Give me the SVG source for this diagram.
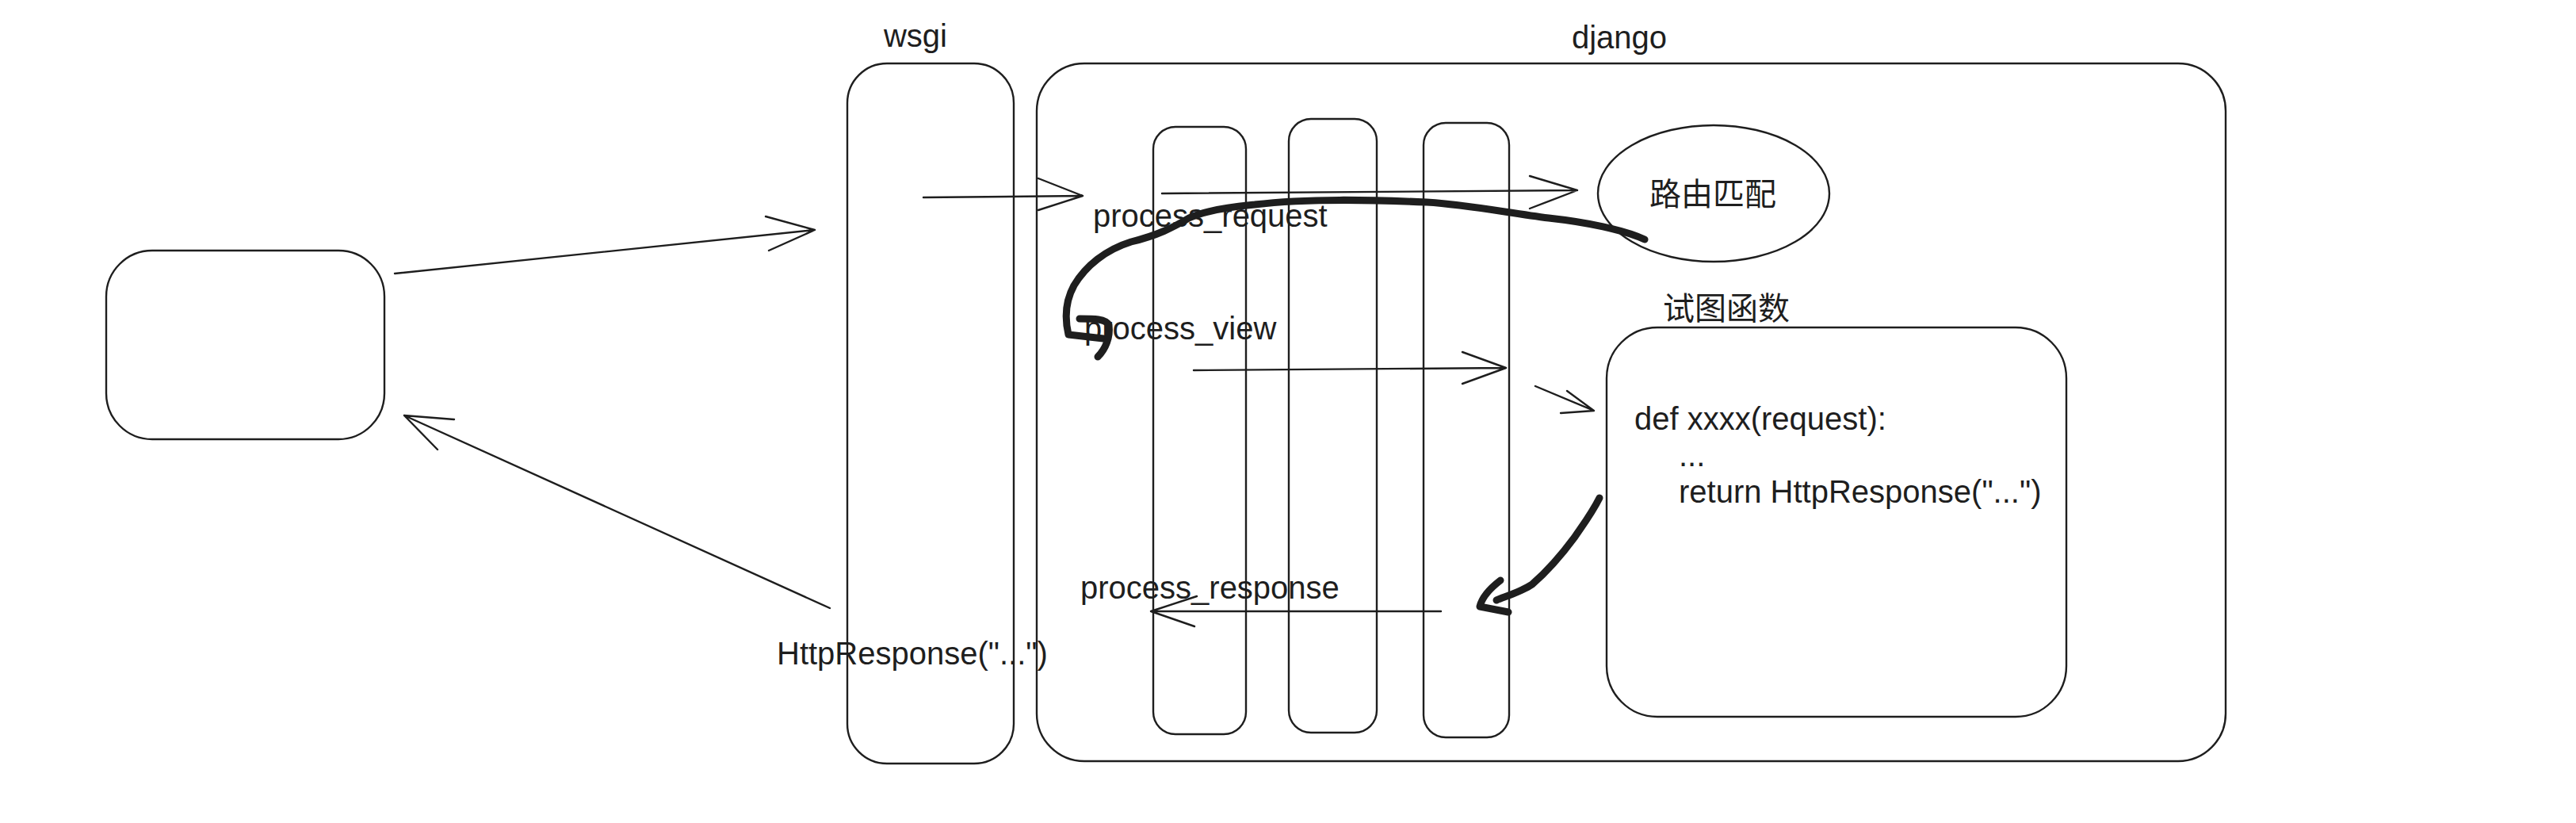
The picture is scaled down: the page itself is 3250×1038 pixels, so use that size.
<svg xmlns="http://www.w3.org/2000/svg" width="3250" height="1038" viewBox="0 0 3250 1038">
<defs>
<style>
.box{fill:none;stroke:#1e1e1e;stroke-width:2.4}
.ln{fill:none;stroke:#1e1e1e;stroke-width:2.4;stroke-linecap:round;stroke-linejoin:round}
.thick{fill:none;stroke:#1e1e1e;stroke-width:9;stroke-linecap:round;stroke-linejoin:round}
.t{font-family:"Liberation Sans",Arial,sans-serif;font-size:40px;fill:#1e1e1e}
.cjk{font-family:"Liberation Sans","Noto Sans CJK SC",sans-serif;font-size:40px;fill:#1e1e1e}
</style>
</defs>
<rect width="3250" height="1038" fill="#ffffff"/>
<g id="client">
<rect class="box" x="134" y="316" width="351" height="238" rx="58" ry="58"/>
</g>
<g id="wsgi">
<rect class="box" x="1069" y="80" width="210" height="883" rx="50" ry="50"/>
<text class="t" x="1155" y="59" text-anchor="middle">wsgi</text>
</g>
<g id="django">
<rect class="box" x="1308" y="80" width="1500" height="880" rx="60" ry="60"/>
<text class="t" x="2043" y="61" text-anchor="middle">django</text>
</g>
<g id="middleware1">
<rect class="box" x="1455" y="160" width="117" height="766" rx="28" ry="28"/>
</g>
<g id="middleware2">
<rect class="box" x="1626" y="150" width="111" height="774" rx="28" ry="28"/>
</g>
<g id="middleware3">
<rect class="box" x="1796" y="155" width="108" height="775" rx="28" ry="28"/>
</g>
<g id="route">
<ellipse class="box" cx="2162" cy="244" rx="146" ry="86"/>
<text class="cjk" x="2161" y="259" text-anchor="middle">路由匹配</text>
</g>
<g id="view">
<rect class="box" x="2027" y="413" width="580" height="491" rx="64" ry="64"/>
<text class="cjk" x="2178" y="403" text-anchor="middle">试图函数</text>
<text class="t" x="2062" y="542">def xxxx(request):</text>
<text class="t" x="2118" y="588">...</text>
<text class="t" x="2118" y="634">return HttpResponse("...")</text>
</g>
<g id="labels">
<text class="t" x="1379" y="286">process_request</text>
<text class="t" x="1368" y="428">process_view</text>
<text class="t" x="1363" y="755">process_response</text>
<text class="t" x="980" y="838">HttpResponse("...")</text>
</g>
<g id="connectors">
<path class="ln" d="M498,345 L1028,290 M966,273 L1028,290 L970,316"/>
<path class="ln" d="M1047,767 L510,524 M573,529 L510,524 L552,567"/>
<path class="ln" d="M1165,249 L1366,247 M1310,225 L1366,247 L1310,265"/>
<path class="ln" d="M1466,244 L1990,240 M1930,222 L1990,240 L1930,263"/>
<path class="ln" d="M1506,467 L1900,464 M1845,444 L1900,464 L1845,484"/>
<path class="ln" d="M1937,487 L2011,518 M1977,493 L2011,518 L1969,521"/>
<path class="ln" d="M1818,771 L1452,771 M1510,752 L1452,771 L1507,790"/>
<path class="thick" d="M2075,302 C2050,290 2000,280 1954,275 C1900,268 1850,258 1800,255 C1730,252 1650,250 1583,258 C1540,262 1515,268 1500,275 C1480,287 1460,297 1427,305 C1395,315 1370,335 1355,360 C1343,382 1344,405 1348,422 L1392,427"/>
<path class="thick" d="M1362,402 C1380,402 1395,402 1399,410 C1401,425 1395,440 1385,450"/>
<path class="thick" d="M2018,628 C2008,648 1995,665 1987,677 C1970,700 1955,718 1933,737 C1920,746 1900,752 1888,757"/>
<path class="thick" d="M1893,732 C1880,742 1870,752 1867,765 L1903,772"/>
</g>
</svg>
